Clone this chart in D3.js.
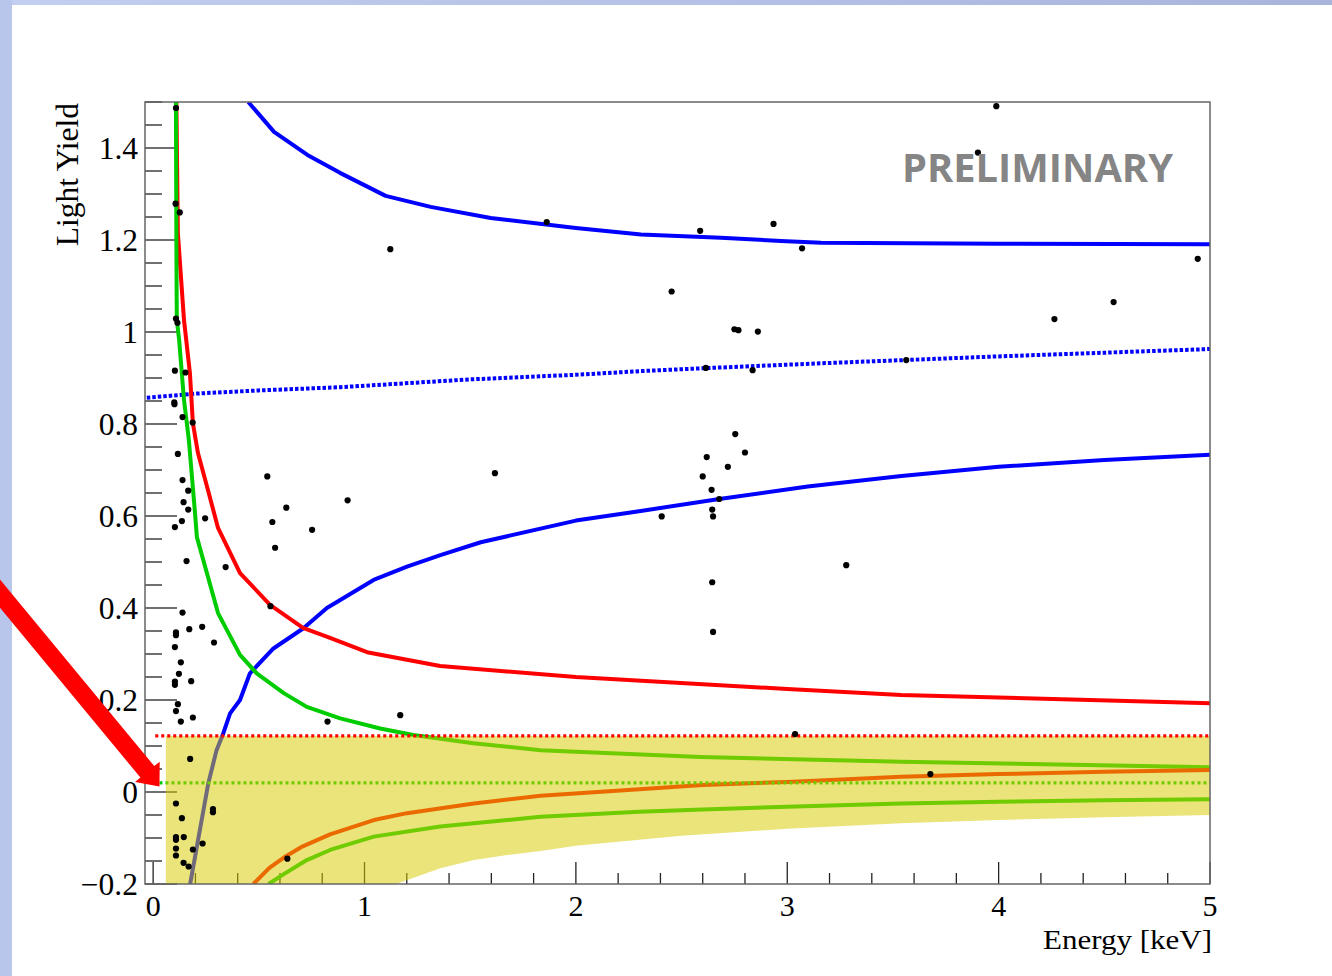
<!DOCTYPE html>
<html><head><meta charset="utf-8">
<script src="https://cdn.jsdelivr.net/npm/d3@7/dist/d3.min.js"></script>
<style>body{margin:0;background:#fff;overflow:hidden}</style>
</head><body>
<svg id="c" width="1332" height="976"></svg>
<script>
// ---------------- data ----------------
const xTickValues = [0, 1, 2, 3, 4, 5];
const xTickLabels = ["0", "1", "2", "3", "4", "5"];
const yTickValues = [-0.2, 0, 0.2, 0.4, 0.6, 0.8, 1.0, 1.2, 1.4];
const yTickLabels = ["\u22120.2", "0", "0.2", "0.4", "0.6", "0.8", "1", "1.2", "1.4"];

const blueUpper = [[0.45,1.50],[0.572,1.435],[0.73,1.385],[0.884,1.346],[1.10,1.296],[1.313,1.272],[1.597,1.248],[2.0,1.226],[2.308,1.212],[2.686,1.205],[2.97,1.198],[3.16,1.194],[4.0,1.192],[5.0,1.191]];
const blueMean = [[-0.03,0.857],[0.2,0.866],[0.5,0.873],[0.885,0.880],[1.5,0.897],[2.0,0.907],[2.308,0.915],[2.59,0.921],[3.16,0.932],[3.5,0.938],[4.0,0.947],[4.5,0.955],[5.0,0.963]];
const blueLower = [[0.175,-0.2],[0.221,-0.083],[0.261,0.019],[0.30,0.091],[0.33,0.125],[0.364,0.171],[0.411,0.2],[0.458,0.258],[0.569,0.312],[0.711,0.356],[0.822,0.40],[1.043,0.461],[1.201,0.49],[1.359,0.515],[1.55,0.543],[2.0,0.59],[2.307,0.611],[2.679,0.637],[3.097,0.664],[3.54,0.687],[4.0,0.707],[4.5,0.722],[5.0,0.733]];
const redUpper = [[0.110,1.5],[0.117,1.215],[0.146,1.026],[0.174,0.911],[0.188,0.802],[0.212,0.737],[0.259,0.657],[0.307,0.574],[0.411,0.476],[0.553,0.407],[0.709,0.357],[0.837,0.335],[1.012,0.304],[1.358,0.274],[2.0,0.25],[3.0,0.224],[3.539,0.211],[5.0,0.193]];
const greenUpper = [[0.108,1.5],[0.110,1.178],[0.112,1.026],[0.123,0.983],[0.146,0.852],[0.169,0.765],[0.198,0.607],[0.207,0.554],[0.307,0.389],[0.411,0.298],[0.49,0.258],[0.618,0.215],[0.727,0.185],[0.885,0.16],[1.074,0.138],[1.231,0.124],[1.515,0.106],[1.833,0.091],[2.59,0.076],[3.539,0.066],[5.0,0.054]];
const redLower = [[0.474,-0.2],[0.55,-0.165],[0.62,-0.142],[0.70,-0.12],[0.837,-0.092],[1.044,-0.061],[1.201,-0.046],[1.517,-0.025],[1.833,-0.008],[2.3,0.006],[2.6,0.015],[3.0,0.022],[3.539,0.033],[4.0,0.039],[4.5,0.044],[5.0,0.048]];
const greenLower = [[0.546,-0.2],[0.62,-0.178],[0.727,-0.148],[0.837,-0.126],[1.044,-0.097],[1.358,-0.075],[1.833,-0.054],[2.3,-0.043],[2.6,-0.038],[3.0,-0.032],[3.539,-0.025],[4.0,-0.021],[4.5,-0.018],[5.0,-0.016]];
const bandTop = 0.122;
const bandStartE = 0.06;
const bandBottom = [[0.06,-0.2],[1.15,-0.2],[1.359,-0.166],[1.518,-0.148],[1.675,-0.137],[1.833,-0.128],[2.0,-0.117],[2.5,-0.095],[3.0,-0.08],[3.539,-0.068],[4.0,-0.061],[4.5,-0.055],[5.0,-0.05]];
const redDottedLevel = 0.122, redDottedStart = 0.01;
const greenDottedLevel = 0.02, greenDottedStart = 0.03;

const dotEnergy = [0.108,0.106,0.126,0.108,0.115,0.103,0.153,0.100,0.101,0.139,0.187,0.117,0.139,0.166,0.144,0.166,0.136,0.103,0.246,0.540,0.630,0.564,0.752,0.577,0.158,0.343,0.555,0.139,0.108,0.108,0.171,0.232,0.288,0.103,0.131,0.122,0.103,0.103,0.180,0.117,0.108,0.188,0.131,0.825,0.920,1.169,0.175,0.108,0.283,0.283,0.136,0.108,0.108,0.145,0.108,0.234,0.188,0.108,0.144,0.168,0.635,1.122,1.862,1.617,2.406,2.453,2.588,2.615,2.750,2.769,2.861,2.935,3.07,2.836,2.754,2.80,2.619,2.719,2.600,2.642,2.678,2.645,2.649,2.645,2.649,3.279,3.037,3.677,3.563,3.902,3.989,4.264,4.544,4.942];
const dotLightYield = [1.487,1.279,1.260,1.029,1.020,0.916,0.912,0.847,0.843,0.815,0.803,0.735,0.678,0.655,0.630,0.614,0.589,0.576,0.595,0.686,0.618,0.587,0.570,0.531,0.502,0.489,0.404,0.390,0.347,0.341,0.354,0.359,0.325,0.315,0.282,0.257,0.240,0.233,0.241,0.191,0.176,0.162,0.153,0.153,0.634,0.167,0.072,-0.025,-0.037,-0.044,-0.057,-0.098,-0.104,-0.098,-0.123,-0.112,-0.125,-0.138,-0.154,-0.162,-0.145,1.180,1.239,0.693,0.599,1.088,1.220,0.922,1.006,1.004,1.001,1.235,1.182,0.917,0.778,0.738,0.728,0.707,0.686,0.657,0.637,0.614,0.599,0.456,0.348,0.493,0.126,0.039,0.939,1.390,1.491,1.028,1.065,1.159];

// ---------------- drawing ----------------
const svg = d3.select("#c");
const W = 1332, H = 976;
const L = 145, R = 1210, T = 102, B = 884;
const x = d3.scaleLinear().domain([-0.0385, 5]).range([L, R]);
const y = d3.scaleLinear().domain([-0.2, 1.5]).range([B, T]);

const defs = svg.append("defs");
const grad = defs.append("linearGradient").attr("id", "topg").attr("x1", 0).attr("x2", 1).attr("y1", 0).attr("y2", 0);
grad.append("stop").attr("offset", 0).attr("stop-color", "#c3cff0");
grad.append("stop").attr("offset", 1).attr("stop-color", "#a8b4dc");
defs.append("clipPath").attr("id", "frameClip").append("rect")
  .attr("x", L).attr("y", T).attr("width", R - L).attr("height", B - T);

// slide background
svg.append("rect").attr("width", W).attr("height", H).attr("fill", "#ffffff");
svg.append("rect").attr("x", 0).attr("y", 0).attr("width", W).attr("height", 5).attr("fill", "url(#topg)");
svg.append("rect").attr("x", 0).attr("y", 0).attr("width", 12).attr("height", H).attr("fill", "#b9c6ec");

// ticks
const tickG = svg.append("g").attr("stroke", "#222").attr("stroke-width", 1.3);
const yMinor = d3.range(-0.2, 1.5001, 0.05).map(v => +v.toFixed(3));
yMinor.forEach(v => {
  const major = Math.abs(Math.round(v / 0.2) * 0.2 - v) < 1e-6;
  tickG.append("line").attr("x1", L).attr("x2", L + (major ? 32 : 17))
    .attr("y1", y(v)).attr("y2", y(v));
});
const xMinor = d3.range(0, 5.0001, 0.2).map(v => +v.toFixed(3));
xMinor.forEach(v => {
  const major = Math.abs(Math.round(v) - v) < 1e-6;
  tickG.append("line").attr("y1", B).attr("y2", B - (major ? 22 : 11))
    .attr("x1", x(v)).attr("x2", x(v));
});

// curves
const line = d3.line().x(d => x(d[0])).y(d => y(d[1]));
const cg = svg.append("g").attr("clip-path", "url(#frameClip)").attr("fill", "none");
function curve(data, color, w, dash) {
  const p = cg.append("path").attr("d", line(data)).attr("stroke", color).attr("stroke-width", w)
    .attr("stroke-linejoin", "round");
  if (dash) p.attr("stroke-dasharray", dash);
  return p;
}
curve(blueUpper, "#0000ff", 4);
curve(blueMean, "#0000ff", 4, "3.5,2");
curve(blueLower, "#0000ff", 4);
curve(redUpper, "#ff0000", 4);
curve(greenUpper, "#00cc00", 4);
curve(redLower, "#ff0000", 4);
curve(greenLower, "#00cc00", 4);
curve([[greenDottedStart, greenDottedLevel], [5, greenDottedLevel]], "#00cc00", 3.2, "3,3");

// yellow band (drawn semi transparent over curves)
const bandPoly = [[bandStartE, bandTop], [5, bandTop]].concat(bandBottom.slice().reverse());
cg.append("path").attr("d", line(bandPoly) + "Z").attr("fill", "#d6cc00").attr("fill-opacity", 0.52).attr("stroke", "none");

// red dotted threshold line on top of the band edge
curve([[redDottedStart, redDottedLevel], [5, redDottedLevel]], "#ff0000", 3.2, "3,3");

// data points
cg.selectAll("circle.dot").data(dotEnergy.map((e, i) => [e, dotLightYield[i]])).join("circle")
  .attr("class", "dot").attr("cx", d => x(d[0])).attr("cy", d => y(d[1])).attr("r", 3.1).attr("fill", "#000");

// frame
svg.append("rect").attr("x", L).attr("y", T).attr("width", R - L).attr("height", B - T)
  .attr("fill", "none").attr("stroke", "#666").attr("stroke-width", 1.5);

// tick labels
const serif = "'Liberation Serif', 'Times New Roman', serif";
const fs = 31.5;
svg.append("g").selectAll("text").data(yTickValues).join("text")
  .attr("x", 138).attr("y", d => y(d) + 10.5).attr("text-anchor", "end")
  .attr("font-family", serif).attr("font-size", fs).attr("fill", "#000")
  .text((d, i) => yTickLabels[i]);
svg.append("g").selectAll("text").data(xTickValues).join("text")
  .attr("x", d => x(d)).attr("y", 916).attr("text-anchor", "middle")
  .attr("font-family", serif).attr("font-size", 30).attr("fill", "#000")
  .text((d, i) => xTickLabels[i]);

// axis titles
svg.append("text").attr("x", 1212).attr("y", 949).attr("text-anchor", "end")
  .attr("textLength", 169).attr("lengthAdjust", "spacingAndGlyphs")
  .attr("font-family", serif).attr("font-size", 28).attr("fill", "#000").text("Energy [keV]");
svg.append("text").attr("transform", "translate(78,103) rotate(-90)").attr("text-anchor", "end")
  .attr("font-family", serif).attr("font-size", fs).attr("fill", "#000").text("Light Yield");

// watermark
svg.append("text").attr("x", 902).attr("y", 182).attr("textLength", 271).attr("lengthAdjust", "spacingAndGlyphs")
  .attr("font-family", "'Open Sans', 'Lato', sans-serif").attr("font-weight", "bold").attr("font-size", 40)
  .attr("fill", "#858585").text("PRELIMINARY");

// red arrow annotation
(function () {
  const tip = [x(0.03), y(0.012)];
  const ang = 50.4 * Math.PI / 180;
  const d = [Math.cos(ang), Math.sin(ang)], p = [Math.sin(ang), -Math.cos(ang)];
  const headL = 19, headW = 16, shaftW = 9, len = 280;
  const base = [tip[0] - headL * d[0], tip[1] - headL * d[1]];
  const start = [tip[0] - len * d[0], tip[1] - len * d[1]];
  const pts = [
    [start[0] + shaftW * p[0], start[1] + shaftW * p[1]],
    [base[0] + shaftW * p[0], base[1] + shaftW * p[1]],
    [base[0] + headW * p[0], base[1] + headW * p[1]],
    tip,
    [base[0] - headW * p[0], base[1] - headW * p[1]],
    [base[0] - shaftW * p[0], base[1] - shaftW * p[1]],
    [start[0] - shaftW * p[0], start[1] - shaftW * p[1]]
  ];
  svg.append("path").attr("d", "M" + pts.map(q => q.join(",")).join("L") + "Z").attr("fill", "#ff0000");
})();
</script>
</body></html>
